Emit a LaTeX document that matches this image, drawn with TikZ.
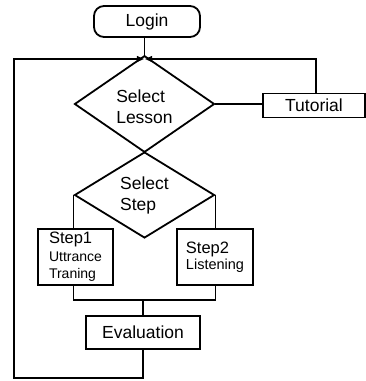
\documentclass[tikz,border=0pt]{standalone}
\usepackage{fontspec}
\setmainfont{Liberation Sans}
\usetikzlibrary{shapes.geometric,arrows.meta}
\begin{document}
\begin{tikzpicture}[x=1pt,y=-1pt,
  mainfont/.style={font=\fontsize{17.5}{21}\selectfont},
  boxstyle/.style={draw, line width=1.8pt, inner sep=0pt, mainfont},
  decision/.style={diamond, draw, line width=1.8pt, inner sep=0pt, align=left, mainfont},
  conn/.style={line width=1.1pt},
  arr/.style={conn, -{Stealth[length=7pt,width=6pt,inset=0pt]}}]
\useasboundingbox (0,0) rectangle (366,381);
\node[boxstyle, rounded corners=10pt, minimum width=106pt, minimum height=31pt] (login) at (147,21.5) {Login};
\node[decision, minimum width=140pt, minimum height=68pt] (lesson) at (144.5,104) {\rule{0pt}{19pt}Select\\Lesson};
\node[boxstyle, minimum width=102pt, minimum height=24pt] (tut) at (314,105.5) {Tutorial};
\node[decision, minimum width=140pt, minimum height=67pt] (stepsel) at (144.5,195) {Select\\Step};
\node[boxstyle, align=left, minimum width=75pt, minimum height=56pt, font=\fontsize{14}{17.5}\selectfont] (s1) at (75.5,257) {{\fontsize{16.5}{17.5}\selectfont Step1}\\Uttrance\\Traning};
\node[boxstyle, align=left, minimum width=76pt, minimum height=56pt, font=\fontsize{14.5}{16}\selectfont] (s2) at (215,257) {{\fontsize{16.5}{16}\selectfont Step2}\\Listening};
\node[boxstyle, minimum width=114pt, minimum height=33pt] (eval) at (143,332.5) {Evaluation};
\coordinate (m) at (lesson.north |- 0,59);
\coordinate (join) at (eval.north |- 0,300);
\coordinate (tr) at (316,59);
\coordinate (bl) at (14,378);
\draw[conn] (login.south -| lesson.north) -- (lesson.north);
\draw[conn] (lesson.east) -- (lesson.east -| tut.west);
\draw[arr] (tut.north -| tr) -- (tr) -- ([xshift=0.6pt]m);
\draw[conn] (lesson.south) -- (stepsel.north);
\draw[conn] (stepsel.west) -- (stepsel.west |- s1.north);
\draw[conn] (stepsel.east) -- (stepsel.east |- s2.north);
\draw[conn] (stepsel.west |- s1.south) |- (join) -| (stepsel.east |- s2.south);
\draw[conn] (join) -- (eval.north);
\draw[arr] (eval.south) |- (bl) |- ([xshift=-0.6pt]m);
\end{tikzpicture}
\end{document}
